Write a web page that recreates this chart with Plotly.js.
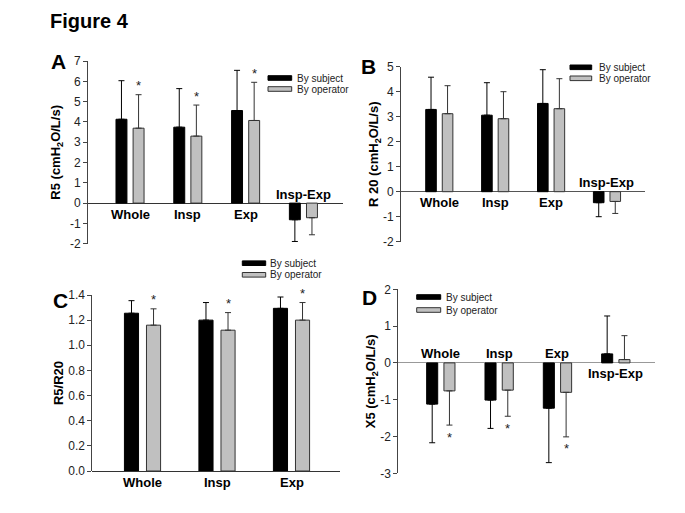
<!DOCTYPE html>
<html><head><meta charset="utf-8">
<script src="https://cdn.plot.ly/plotly-3.0.1.min.js"></script>
<style>body{margin:0;background:#fff}#chart{width:685px;height:513px}</style>
</head><body><div id="chart"></div>
<script>
const categories = ['Whole','Insp','Exp','Insp-Exp'];
const categoriesC = ['Whole','Insp','Exp'];
const seriesNames = ['By subject','By operator'];

// Panel A: R5 (cmH2O/L/s)
const r5Subject = [4.13, 3.74, 4.56, -0.82];
const r5SubjectSD = [1.90, 1.90, 1.98, 1.07];
const r5Operator = [3.69, 3.30, 4.07, -0.72];
const r5OperatorSD = [1.65, 1.53, 1.88, 0.84];
const r5Sig = [true, true, true, false];
const r5Ticks = [-2, -1, 0, 1, 2, 3, 4, 5, 6, 7];
const r5TickText = ['-2', '-1', '0', '1', '2', '3', '4', '5', '6', '7'];

// Panel B: R20 (cmH2O/L/s)
const r20Subject = [3.29, 3.06, 3.53, -0.44];
const r20SubjectSD = [1.29, 1.30, 1.35, 0.56];
const r20Operator = [3.12, 2.92, 3.32, -0.39];
const r20OperatorSD = [1.12, 1.08, 1.20, 0.48];
const r20Sig = [false, false, false, false];
const r20Ticks = [-2, -1, 0, 1, 2, 3, 4, 5];
const r20TickText = ['-2', '-1', '0', '1', '2', '3', '4', '5'];

// Panel C: R5/R20
const ratioSubject = [1.255, 1.20, 1.294];
const ratioSubjectSD = [0.10, 0.14, 0.09];
const ratioOperator = [1.16, 1.12, 1.20];
const ratioOperatorSD = [0.13, 0.14, 0.14];
const ratioSig = [true, true, true];
const ratioTicks = [0, 0.2, 0.4, 0.6, 0.8, 1.0, 1.2, 1.4];
const ratioTickText = ['0.0', '0.2', '0.4', '0.6', '0.8', '1.0', '1.2', '1.4'];

// Panel D: X5 (cmH2O/L/s)
const x5Subject = [-1.12, -1.01, -1.23, 0.245];
const x5SubjectSD = [1.05, 0.77, 1.48, 1.03];
const x5Operator = [-0.76, -0.74, -0.80, 0.09];
const x5OperatorSD = [0.93, 0.71, 1.21, 0.65];
const x5Sig = [true, true, true, false];
const x5Ticks = [-3, -2, -1, 0, 1, 2];
const x5TickText = ['-3', '-2', '-1', '0', '1', '2'];

const W = 685, H = 513;
const fx = p => p / W;
const fy = p => 1 - p / H;
const FONT = 'Liberation Sans, Arial, sans-serif';
const BLACK = '#000000', GRAY = '#c0c0c0';

const panels = [
  {k:'', cats:categories, s:r5Subject, sSD:r5SubjectSD, o:r5Operator, oSD:r5OperatorSD, sig:r5Sig,
   tv:r5Ticks, tt:r5TickText,
   dom:{x:[88,343], y:[61,243.7]}, xr:[-0.727,3.685], yr:[-2,7], zc:'#333',
   title:'<b>R5 (cmH<sub>2</sub>O/L/s)</b>', standoff:6, letter:'A', lp:[58,61],
   leg:{x:268, w:23.7, y1:78, y2:89, tx:295}},
  {k:'2', cats:categories, s:r20Subject, sSD:r20SubjectSD, o:r20Operator, oSD:r20OperatorSD, sig:r20Sig,
   tv:r20Ticks, tt:r20TickText,
   dom:{x:[401,645], y:[66.7,241.7]}, xr:[-0.685,3.68], yr:[-2,5], zc:'#555',
   title:'<b>R 20 (cmH<sub>2</sub>O/L/s)</b>', standoff:1, letter:'B', lp:[368,67],
   leg:{x:570, w:21.7, y1:67.3, y2:78.3, tx:597}},
  {k:'3', cats:categoriesC, s:ratioSubject, sSD:ratioSubjectSD, o:ratioOperator, oSD:ratioOperatorSD, sig:ratioSig,
   tv:ratioTicks, tt:ratioTickText,
   dom:{x:[92.3,340], y:[295,471]}, xr:[-0.674,2.651], yr:[0,1.4], zc:'#333',
   title:'<b>R5/R20</b>', standoff:1, letter:'C', lp:[60,300.5],
   leg:{x:242.3, w:23.4, y1:263.2, y2:274.8, tx:268.3}},
  {k:'4', cats:categories, s:x5Subject, sSD:x5SubjectSD, o:x5Operator, oSD:x5OperatorSD, sig:x5Sig,
   tv:x5Ticks, tt:x5TickText,
   dom:{x:[398.3,655], y:[289.3,473.3]}, xr:[-0.729,3.672], yr:[-3,2], zc:'#999',
   title:'<b>X5 (cmH<sub>2</sub>O/L/s)</b>', standoff:0, letter:'D', lp:[369,297],
   leg:{x:416.7, w:24, y1:297, y2:310, tx:444}}
];

const data = [];
const layout = {
  width: W, height: H,
  margin: {l:0, r:0, t:0, b:0},
  paper_bgcolor: '#fff', plot_bgcolor: 'rgba(0,0,0,0)',
  showlegend: false,
  barmode: 'group', bargap: 0.408, bargroupgap: 0.36,
  font: {family: FONT, color: '#222'},
  annotations: [], shapes: []
};

layout.annotations.push({xref:'paper', yref:'paper', x:fx(48), y:fy(20.5), xanchor:'left', yanchor:'middle',
  text:'<b>Figure 4</b>', showarrow:false, font:{family:FONT, size:20, color:'#000'}});

const up = (v, e) => v.map((x, i) => x >= 0 ? e[i] : 0);
const dn = (v, e) => v.map((x, i) => x < 0 ? e[i] : 0);

panels.forEach(p => {
  const xa = 'x' + p.k, ya = 'y' + p.k;
  data.push({type:'bar', name:seriesNames[0], x:p.cats, y:p.s, xaxis:xa, yaxis:ya,
    marker:{color:BLACK, line:{color:'#000', width:1}},
    error_y:{type:'data', symmetric:false, array:up(p.s,p.sSD), arrayminus:dn(p.s,p.sSD), color:'#000', thickness:1, width:3},
    hoverinfo:'skip'});
  data.push({type:'bar', name:seriesNames[1], x:p.cats, y:p.o, xaxis:xa, yaxis:ya,
    marker:{color:GRAY, line:{color:'#333', width:1}},
    error_y:{type:'data', symmetric:false, array:up(p.o,p.oSD), arrayminus:dn(p.o,p.oSD), color:'#333', thickness:1, width:3},
    hoverinfo:'skip'});

  const xKey = 'xaxis' + p.k, yKey = 'yaxis' + p.k;
  layout[xKey] = {domain:[fx(p.dom.x[0]), fx(p.dom.x[1])], anchor:ya, type:'category', range:p.xr,
    showticklabels:false, ticks:'', showline:false, showgrid:false, zeroline:false, fixedrange:true};
  layout[yKey] = {domain:[fy(p.dom.y[1]), fy(p.dom.y[0])], anchor:xa, range:p.yr,
    tickmode:'array', tickvals:p.tv, ticktext:p.tt,
    showline:true, linecolor:'#444', linewidth:1, ticks:'outside', ticklen:4, tickcolor:'#444',
    showgrid:false, zeroline:true, zerolinecolor:p.zc, zerolinewidth:1,
    tickfont:{family:FONT, size:12, color:'#222'},
    title:{text:p.title, standoff:p.standoff, font:{family:FONT, size:13, color:'#000'}}, fixedrange:true};

  // category labels on the side opposite to the bars
  p.cats.forEach((c, i) => {
    const below = p.s[i] >= 0;
    layout.annotations.push({xref:xa, yref:ya, x:i, y:0, xanchor:'center', yanchor:'middle',
      yshift: below ? -11 : 9, text:'<b>' + c + '</b>', showarrow:false,
      font:{family:FONT, size:13, color:'#000'}});
    if (p.sig[i]) {
      const pos = p.o[i] >= 0;
      const yv = pos ? p.o[i] + p.oSD[i] : p.o[i] - p.oSD[i];
      layout.annotations.push({xref:xa, yref:ya, x:i + 0.148, y:yv, xanchor:'center', yanchor:'middle',
        yshift: pos ? 9 : -12, text:'*', showarrow:false, font:{family:FONT, size:13, color:'#222'}});
    }
  });

  // panel letter
  layout.annotations.push({xref:'paper', yref:'paper', x:fx(p.lp[0]), y:fy(p.lp[1]), xanchor:'center', yanchor:'middle',
    text:'<b>' + p.letter + '</b>', showarrow:false, font:{family:FONT, size:21, color:'#000'}});

  // legend
  const L = p.leg;
  [[L.y1, BLACK, '#000'], [L.y2, GRAY, '#333']].forEach((r, j) => {
    layout.shapes.push({type:'rect', xref:'paper', yref:'paper', x0:fx(L.x), x1:fx(L.x + L.w),
      y0:fy(r[0] + 2.3), y1:fy(r[0] - 2.3), fillcolor:r[1], line:{color:r[2], width:1}});
    layout.annotations.push({xref:'paper', yref:'paper', x:fx(L.tx), y:fy(r[0]), xanchor:'left', yanchor:'middle',
      text:seriesNames[j], showarrow:false, font:{family:FONT, size:10, color:'#222'}});
  });
});

Plotly.newPlot('chart', data, layout, {displayModeBar:false, staticPlot:true});
</script>
</body></html>
